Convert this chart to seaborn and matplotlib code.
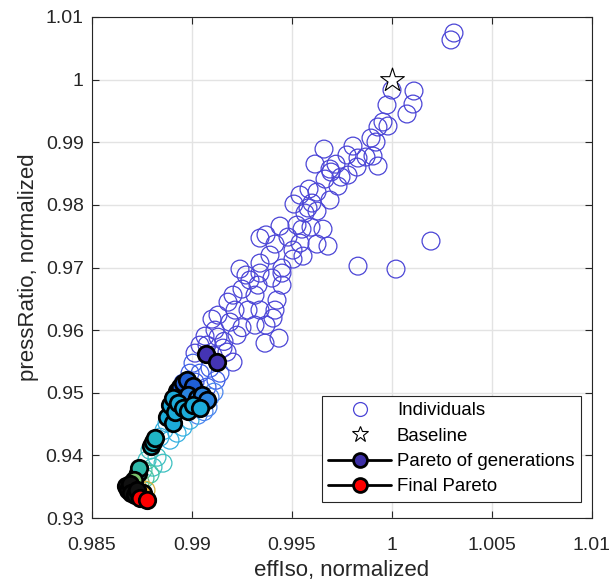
import matplotlib
matplotlib.use("Agg")
import matplotlib.pyplot as plt
import seaborn as sns
import pandas as pd
from matplotlib.lines import Line2D

# ---------------- data ----------------
ind_gen1 = [
    (1.00310, 1.00744), (1.00295, 1.00633), (1.00000, 0.99834), (1.00110, 0.99818),
    (1.00105, 0.99610), (1.00075, 0.99451), (0.99975, 0.99594), (0.99955, 0.99323),
    (0.99980, 0.99259), (0.99930, 0.99243), (0.99895, 0.99067), (0.99920, 0.99003),
    (0.99660, 0.98891), (0.99805, 0.98939), (0.99775, 0.98796), (0.99870, 0.98764),
    (0.99905, 0.98780), (0.99830, 0.98748), (0.99615, 0.98652), (0.99690, 0.98572),
    (0.99930, 0.98620), (0.99695, 0.98524), (0.99665, 0.98412), (0.99745, 0.98444),
    (0.99780, 0.98476), (0.99825, 0.98604), (0.99585, 0.98252), (0.99625, 0.98205),
    (0.99540, 0.98157), (0.99510, 0.98013), (0.99690, 0.98077), (0.99600, 0.98029),
    (0.99565, 0.97869), (0.99625, 0.97901), (0.99440, 0.97661), (0.99525, 0.97677),
    (0.99550, 0.97613), (0.99595, 0.97645), (0.99655, 0.97613), (0.99480, 0.97486),
    (0.99340, 0.97470), (0.99415, 0.97374), (0.99540, 0.97390), (0.99625, 0.97374),
    (0.99680, 0.97342), (0.99390, 0.97198), (0.99505, 0.97278), (0.99555, 0.97182),
    (0.99340, 0.97070), (0.99450, 0.96991), (0.99240, 0.96975), (0.99505, 0.97134),
    (0.99830, 0.97022), (1.00020, 0.96975), (1.00195, 0.97422), (0.99400, 0.96831),
    (0.99290, 0.96799), (0.99340, 0.96911), (0.99450, 0.96911), (0.99330, 0.96719),
    (0.99250, 0.96655), (0.99450, 0.96719), (0.99205, 0.96559), (0.99315, 0.96559),
    (0.99180, 0.96447), (0.99425, 0.96479), (0.99280, 0.96320), (0.99340, 0.96320),
    (0.99415, 0.96320), (0.99215, 0.96320), (0.99100, 0.96176), (0.99190, 0.96128),
    (0.99405, 0.96192), (0.99315, 0.96080), (0.99370, 0.96080), (0.99115, 0.96000),
    (0.99225, 0.95920), (0.99130, 0.95888), (0.99365, 0.95792), (0.99435, 0.95872),
    (0.99075, 0.95761), (0.99155, 0.95713), (0.99015, 0.95633), (0.99065, 0.95904),
    (0.99040, 0.95761), (0.99105, 0.95601), (0.99175, 0.95649), (0.99205, 0.95489),
    (0.99370, 0.97520), (0.99580, 0.97950), (0.99730, 0.98300), (0.99270, 0.96880),
    (0.99130, 0.96240), (0.99250, 0.96040), (0.99160, 0.95820), (0.99720, 0.98650),
]
ind_gen2 = [(0.99005, 0.95473), (0.98990, 0.95313), (0.99040, 0.95313), (0.99090, 0.95393),
            (0.99140, 0.95313), (0.98955, 0.95153), (0.99015, 0.95170), (0.99075, 0.95090),
            (0.99120, 0.95200)]
ind_gen3 = [(0.99090, 0.94930), (0.99080, 0.94770), (0.99030, 0.94642), (0.99110, 0.95010),
            (0.99060, 0.94700)]
ind_gen4 = [(0.98875, 0.94515), (0.98955, 0.94451), (0.98840, 0.94291), (0.98890, 0.94243),
            (0.98925, 0.94355), (0.98990, 0.94562), (0.98860, 0.94400)]
ind_gen5 = [(0.98790, 0.94083), (0.98825, 0.93971), (0.98775, 0.93923), (0.98855, 0.93876),
            (0.98805, 0.93812)]
ind_gen6 = [(0.98755, 0.93764), (0.98790, 0.93700), (0.98765, 0.93636)]
ind_gen7 = [(0.98725, 0.93652), (0.98705, 0.93556), (0.98740, 0.93572)]
ind_gen8 = [(0.98730, 0.93476), (0.98770, 0.93444)]

par_gen1 = [(0.99070, 0.95617), (0.99125, 0.95489)]
par_gen2 = [(0.98975, 0.95201), (0.98955, 0.95153), (0.98940, 0.95090), (0.98925, 0.95026),
            (0.99005, 0.95106)]
par_gen3 = [(0.99025, 0.94914), (0.99050, 0.94962), (0.99075, 0.94882), (0.98980, 0.94962)]
par_gen4 = [(0.98905, 0.94914), (0.98890, 0.94802), (0.98930, 0.94834), (0.98955, 0.94754),
            (0.99005, 0.94802), (0.99040, 0.94754), (0.98915, 0.94690), (0.98980, 0.94706),
            (0.98875, 0.94610), (0.98905, 0.94515)]
par_gen5 = [(0.98815, 0.94275), (0.98805, 0.94211), (0.98795, 0.94147)]
par_gen6 = [(0.98735, 0.93796), (0.98730, 0.93716)]
par_gen7 = [(0.98710, 0.93604), (0.98700, 0.93540)]
par_gen8 = [(0.98755, 0.93400)]
par_gen9 = [(0.98670, 0.93508), (0.98680, 0.93444), (0.98695, 0.93396), (0.98715, 0.93364),
            (0.98690, 0.93540), (0.98725, 0.93444)]

final_x = [0.98740, 0.98775]
final_y = [0.93316, 0.93285]
baseline_x = [1.0]
baseline_y = [1.0]

individual_sets = [ind_gen1, ind_gen2, ind_gen3, ind_gen4, ind_gen5, ind_gen6, ind_gen7, ind_gen8]
pareto_sets = [par_gen1, par_gen2, par_gen3, par_gen4, par_gen5, par_gen6, par_gen7, par_gen8, par_gen9]

x_ticks = [0.985, 0.99, 0.995, 1.0, 1.005, 1.01]
x_tick_labels = ["0.985", "0.99", "0.995", "1", "1.005", "1.01"]
y_ticks = [0.93, 0.94, 0.95, 0.96, 0.97, 0.98, 0.99, 1.0, 1.01]
y_tick_labels = ["0.93", "0.94", "0.95", "0.96", "0.97", "0.98", "0.99", "1", "1.01"]
legend_labels = ["Individuals", "Baseline", "Pareto of generations", "Final Pareto"]

# ---------------- style ----------------
ind_colors = ["#4b45d6", "#3f5fe6", "#4a86ee", "#35b0e0", "#3cc0c0", "#45c4a2", "#70c070", "#d8b040"]
par_colors = ["#4434b4", "#1f5fd6", "#2a84e0", "#1cabd9", "#1fb5c4", "#2fb9aa", "#7cc46c",
              "#e8a838", "#101010"]
txt = "#262626"

sns.set_style("whitegrid")
plt.rcParams["font.family"] = ["Liberation Sans", "DejaVu Sans"]

fig = plt.figure(figsize=(6.13, 5.86), dpi=100)
ax = fig.add_axes([0.1501, 0.1160, 0.8156, 0.8550])

for pts, col in zip(individual_sets, ind_colors):
    df = pd.DataFrame(pts, columns=["effIso", "pressRatio"])
    sns.scatterplot(data=df, x="effIso", y="pressRatio", ax=ax, s=165,
                    facecolor="none", edgecolor=col, linewidth=0.9, zorder=2, legend=False)

for i, (pts, col) in enumerate(zip(pareto_sets, par_colors)):
    df = pd.DataFrame(pts, columns=["effIso", "pressRatio"]).sort_values("effIso")
    ax.plot(df["effIso"], df["pressRatio"], color="k", lw=2, zorder=3 + i * 0.02)
    sns.scatterplot(data=df, x="effIso", y="pressRatio", ax=ax, s=140, color=col,
                    edgecolor="k", linewidth=2, zorder=3.01 + i * 0.02, legend=False)

fdf = pd.DataFrame({"effIso": final_x, "pressRatio": final_y})
ax.plot(fdf["effIso"], fdf["pressRatio"], color="k", lw=2, zorder=4)
sns.scatterplot(data=fdf, x="effIso", y="pressRatio", ax=ax, s=140, color="#ff0000",
                edgecolor="k", linewidth=2, zorder=4.01, legend=False)

sns.scatterplot(x=baseline_x, y=baseline_y, ax=ax, marker="*", s=320, facecolor="white",
                edgecolor="k", linewidth=0.8, zorder=6, legend=False)

ax.set_xlim(0.985, 1.01)
ax.set_ylim(0.93, 1.01)
ax.set_xticks(x_ticks)
ax.set_xticklabels(x_tick_labels)
ax.set_yticks(y_ticks)
ax.set_yticklabels(y_tick_labels)
ax.grid(True, color="#e3e3e3", lw=1.0)
ax.set_axisbelow(True)
for sp in ax.spines.values():
    sp.set_visible(True)
    sp.set_color(txt)
    sp.set_linewidth(0.8)
ax.tick_params(axis="both", direction="in", length=5, width=0.8, bottom=True, left=True,
               top=True, right=True, labelsize=14, colors=txt)
ax.tick_params(axis="x", pad=14)
ax.tick_params(axis="y", pad=6)
ax.set_xlabel("effIso, normalized", fontsize=16, color=txt, labelpad=4)
ax.set_ylabel("pressRatio, normalized", fontsize=16, color=txt, labelpad=5)

handles = [
    Line2D([], [], ls="none", marker="o", mfc="none", mec="#4b45d6", ms=10, mew=0.9),
    Line2D([], [], ls="none", marker="*", mfc="white", mec="k", ms=12, mew=0.8),
    Line2D([], [], color="k", lw=2, marker="o", mfc="#3d2fa6", mec="k", ms=10, mew=2),
    Line2D([], [], color="k", lw=2, marker="o", mfc="#ff0000", mec="k", ms=10, mew=2),
]
leg = ax.legend(handles, legend_labels, loc="lower right", bbox_to_anchor=(0.978, 0.032),
                borderaxespad=0, fontsize=13.4, handlelength=3.4, handletextpad=0.3,
                labelspacing=0.45, frameon=True, fancybox=False, edgecolor=txt,
                framealpha=1, borderpad=0.35)
leg.get_frame().set_linewidth(0.8)
for t in leg.get_texts():
    t.set_color("k")

fig.savefig("out.png", dpi=100)
